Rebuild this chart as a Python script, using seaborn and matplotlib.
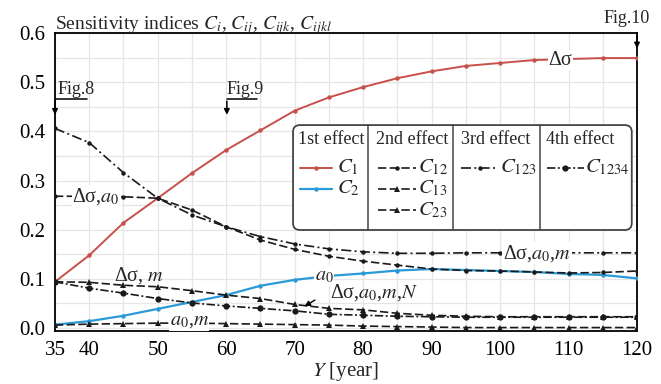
import numpy as np
import pandas as pd
import matplotlib
matplotlib.use("Agg")
import matplotlib.pyplot as plt
import seaborn as sns
from matplotlib.patches import FancyBboxPatch
from matplotlib.lines import Line2D
from matplotlib.ticker import MultipleLocator

# ---------------- data ----------------
years = [35, 40, 45, 50, 55, 60, 65, 70, 75, 80, 85, 90, 95, 100, 105, 110, 115, 120]
C1 = [0.094, 0.148, 0.214, 0.264, 0.315, 0.362, 0.402, 0.442, 0.469, 0.490, 0.508,
      0.522, 0.533, 0.539, 0.545, 0.547, 0.549, 0.549]
C2 = [0.007, 0.014, 0.025, 0.039, 0.053, 0.067, 0.086, 0.098, 0.106, 0.111, 0.117,
      0.120, 0.118, 0.116, 0.114, 0.110, 0.108, 0.101]
C12 = [0.268, 0.268, 0.267, 0.264, 0.240, 0.206, 0.179, 0.160, 0.146, 0.136, 0.128,
       0.120, 0.117, 0.116, 0.114, 0.112, 0.113, 0.116]
C13 = [0.094, 0.093, 0.087, 0.084, 0.076, 0.067, 0.060, 0.048, 0.040, 0.037, 0.030,
       0.026, 0.024, 0.023, 0.023, 0.023, 0.023, 0.023]
C23 = [0.006, 0.008, 0.009, 0.010, 0.010, 0.009, 0.008, 0.007, 0.006, 0.004, 0.003,
       0.002, 0.001, 0.001, 0.001, 0.001, 0.001, 0.001]
C123 = [0.406, 0.377, 0.316, 0.264, 0.230, 0.206, 0.186, 0.171, 0.161, 0.155, 0.152,
        0.152, 0.153, 0.153, 0.153, 0.153, 0.153, 0.153]
C1234 = [0.094, 0.081, 0.071, 0.060, 0.051, 0.045, 0.040, 0.035, 0.028, 0.026, 0.024,
         0.023, 0.022, 0.022, 0.022, 0.022, 0.022, 0.022]

x_ticks = [35, 40, 50, 60, 70, 80, 90, 100, 110, 120]
y_ticks = [0.0, 0.1, 0.2, 0.3, 0.4, 0.5, 0.6]
headers = ["1st effect", "2nd effect", "3rd effect", "4th effect"]

# ---------------- style ----------------
sns.set_style("white")
plt.rcParams['font.family'] = ['Liberation Serif', 'DejaVu Serif']
plt.rcParams['mathtext.fontset'] = 'stix'

RED = '#c8504a'
BLUE = '#2a9ad8'
BLK = '#1a1a1a'

fig = plt.figure(figsize=(6.61, 3.84), dpi=100)
ax = fig.add_axes([55 / 661, 1 - 331 / 384, 582 / 661, 298 / 384])

ax.xaxis.set_minor_locator(MultipleLocator(5))
ax.yaxis.set_minor_locator(MultipleLocator(0.05))
ax.grid(True, which='both', color='#e6e6e6', lw=0.9, zorder=0)
ax.set_axisbelow(True)

series = [
    (C1, RED, '-', 'o', 3.2, 1.4),
    (C2, BLUE, '-', 'o', 3.2, 1.6),
    (C12, BLK, (0, (5, 2)), 'o', 3.2, 1.2),
    (C13, BLK, (0, (5, 2)), '^', 4.5, 1.2),
    (C23, BLK, (0, (5, 2)), '^', 4.5, 1.2),
    (C123, BLK, (0, (6, 2, 1.2, 2)), 'o', 3.2, 1.2),
    (C1234, BLK, (0, (5, 1.5, 1.2, 1.5)), 'o', 4.5, 1.2),
]
for vals, col, ls, mk, ms, lw in series:
    sns.lineplot(x=years, y=vals, ax=ax, color=col, linestyle=ls, marker=mk,
                 markersize=ms, markeredgewidth=0, lw=lw, zorder=3)

ax.set_xlim(35, 120)
ax.set_ylim(-0.006, 0.6)
ax.set_xticks(x_ticks)
ax.set_yticks(y_ticks)
ax.set_yticklabels([f"{v:.1f}" for v in y_ticks])
ax.tick_params(axis='both', which='major', labelsize=15, direction='out',
               length=3, width=1, colors='black', pad=4)
ax.tick_params(axis='both', which='minor', length=0)
for s in ax.spines.values():
    s.set_visible(True)
    s.set_color('black')
    s.set_linewidth(1.3)

ax.set_xlabel("$Y$ [year]", fontsize=15, labelpad=0)
ax.set_ylabel("")
ax.set_title(r"Sensitivity indices $C_i$, $C_{ij}$, $C_{ijk}$, $C_{ijkl}$",
             loc='left', fontsize=14, pad=3, x=0.0)

# ---------------- line labels ----------------
wb = dict(facecolor='white', edgecolor='none', pad=0.5)
tk = dict(fontsize=14.5, zorder=6, ha='center', va='center')
ax.text(108.8, 0.545, "Δσ", bbox=wb, **tk)
ax.text(41.0, 0.268, "Δσ,$a_0$", bbox=wb, **tk)
ax.text(105.4, 0.152, "Δσ,$a_0$,$m$", bbox=wb, **tk)
ax.text(47.3, 0.106, "Δσ, $m$", **tk)
ax.text(74.3, 0.107, "$a_0$", bbox=wb, **tk)
ax.text(81.6, 0.073, "Δσ,$a_0$,$m$,$N$", **tk)
ax.text(54.6, 0.015, "$a_0$,$m$", bbox=wb, **tk)
ax.annotate("", xy=(71.1, 0.041), xytext=(73.3, 0.060),
            arrowprops=dict(arrowstyle='-|>', color='k', lw=1, mutation_scale=8),
            zorder=6)

# Fig. pointers
arr = dict(arrowstyle='-|>', color='k', lw=1.1, mutation_scale=8)
ax.text(35.4, 0.468, "Fig.8", fontsize=13, ha='left', va='bottom')
ax.plot([35, 39.7], [0.466, 0.466], color='k', lw=1.1, clip_on=False)
ax.annotate("", xy=(35, 0.428), xytext=(35, 0.467), arrowprops=arr)
ax.text(60.1, 0.468, "Fig.9", fontsize=13, ha='left', va='bottom')
ax.plot([60.1, 64.5], [0.466, 0.466], color='k', lw=1.1)
ax.annotate("", xy=(60.1, 0.428), xytext=(60.1, 0.467), arrowprops=arr)
ax.text(121.8, 0.612, "Fig.10", fontsize=13, ha='right', va='bottom', clip_on=False)
ax.annotate("", xy=(120, 0.563), xytext=(120, 0.6), arrowprops=arr)

# ---------------- custom legend table ----------------
T = ax.transAxes
x0, y0, w, h = 0.409, 0.339, 0.582, 0.352
box = FancyBboxPatch((x0, y0), w, h, boxstyle="round,pad=0,rounding_size=0.012",
                     transform=T, facecolor='white', edgecolor='#444444', lw=1.3,
                     zorder=7, mutation_aspect=1.9)
ax.add_patch(box)
for xd in [0.538, 0.684, 0.833]:
    ax.add_line(Line2D([xd, xd], [y0, y0 + h], transform=T, color='#444444', lw=1.1, zorder=8))
for hx, htxt in zip([0.418, 0.551, 0.697, 0.843], headers):
    ax.text(hx, 0.641, htxt, transform=T, fontsize=13, ha='left', va='center', zorder=9)

rows = [0.548, 0.478, 0.405]
entries = [
    (series[0], 0.421, 0.476, 0.484, rows[0], "$C_1$"),
    (series[1], 0.421, 0.476, 0.484, rows[1], "$C_2$"),
    (series[2], 0.555, 0.620, 0.624, rows[0], "$C_{12}$"),
    (series[3], 0.555, 0.620, 0.624, rows[1], "$C_{13}$"),
    (series[4], 0.555, 0.620, 0.624, rows[2], "$C_{23}$"),
    (series[5], 0.697, 0.762, 0.764, rows[0], "$C_{123}$"),
    (series[6], 0.845, 0.909, 0.911, rows[0], "$C_{1234}$"),
]
for (vals, col, ls, mk, ms, lw), xa, xb, xt, yy, lab in entries:
    ax.add_line(Line2D([xa, (xa + xb) / 2, xb], [yy, yy, yy], transform=T, color=col,
                       linestyle=ls, marker=mk, markersize=ms, markeredgewidth=0,
                       markevery=[1], lw=lw, zorder=9))
    ax.text(xt, yy, lab, transform=T, fontsize=15, ha='left', va='center', zorder=9)

fig.savefig("out.png", dpi=100)
